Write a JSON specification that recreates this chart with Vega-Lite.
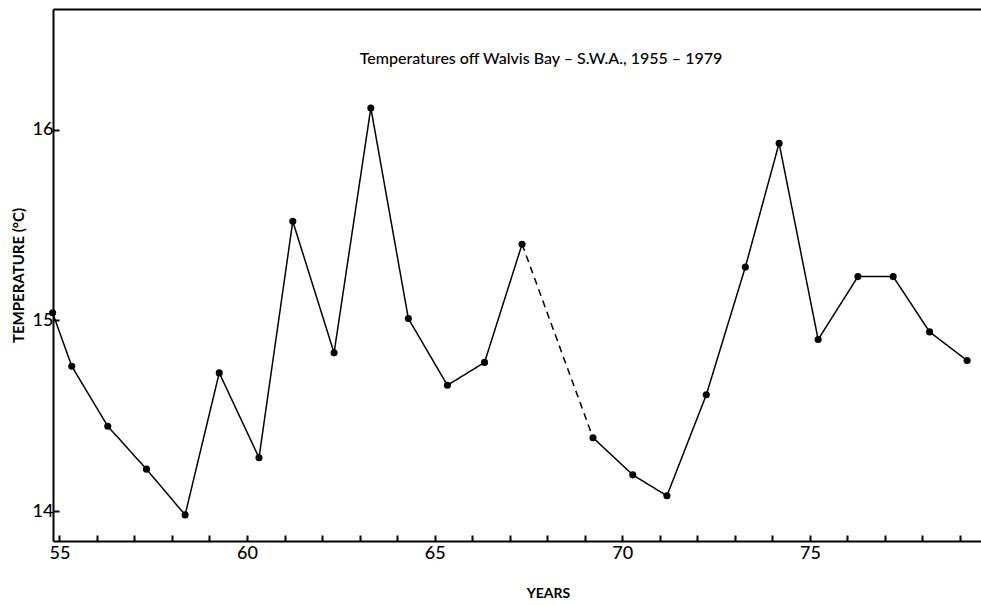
{
  "$schema": "https://vega.github.io/schema/vega-lite/v6.json",
  "width": 928,
  "height": 532,
  "autosize": {"type": "none"},
  "padding": {"left": 53, "top": 9, "right": 0, "bottom": 64},
  "background": "white",
  "view": {"stroke": null},
  "config": {
    "view": {"stroke": null},
    "font": "Lato"
  },
  "title": {
    "text": "Temperatures off Walvis Bay – S.W.A., 1955 – 1979",
    "anchor": "middle",
    "fontSize": 16,
    "fontWeight": 500,
    "color": "black",
    "dx": 24,
    "dy": 62
  },
  "data": {
    "values": [
      {"year": 54.82, "temp": 15.04, "seg": "a"},
      {"year": 55.33, "temp": 14.76, "seg": "a"},
      {"year": 56.29, "temp": 14.445, "seg": "a"},
      {"year": 57.32, "temp": 14.22, "seg": "a"},
      {"year": 58.35, "temp": 13.98, "seg": "a"},
      {"year": 59.26, "temp": 14.725, "seg": "a"},
      {"year": 60.32, "temp": 14.28, "seg": "a"},
      {"year": 61.22, "temp": 15.52, "seg": "a"},
      {"year": 62.32, "temp": 14.83, "seg": "a"},
      {"year": 63.30, "temp": 16.115, "seg": "a"},
      {"year": 64.30, "temp": 15.01, "seg": "a"},
      {"year": 65.34, "temp": 14.66, "seg": "a"},
      {"year": 66.33, "temp": 14.78, "seg": "a"},
      {"year": 67.33, "temp": 15.40, "seg": "a"},
      {"year": 67.33, "temp": 15.40, "seg": "gap"},
      {"year": 69.22, "temp": 14.385, "seg": "gap"},
      {"year": 69.22, "temp": 14.385, "seg": "b"},
      {"year": 70.28, "temp": 14.19, "seg": "b"},
      {"year": 71.19, "temp": 14.08, "seg": "b"},
      {"year": 72.24, "temp": 14.61, "seg": "b"},
      {"year": 73.28, "temp": 15.28, "seg": "b"},
      {"year": 74.18, "temp": 15.93, "seg": "b"},
      {"year": 75.22, "temp": 14.90, "seg": "b"},
      {"year": 76.28, "temp": 15.23, "seg": "b"},
      {"year": 77.22, "temp": 15.23, "seg": "b"},
      {"year": 78.19, "temp": 14.94, "seg": "b"},
      {"year": 79.19, "temp": 14.79, "seg": "b"}
    ]
  },
  "encoding": {
    "x": {
      "field": "year",
      "type": "quantitative",
      "scale": {"domain": [54.83, 79.56], "nice": false, "zero": false},
      "axis": {
        "title": "YEARS",
        "titleFontSize": 14,
        "titleFontWeight": "bold",
        "titleColor": "black",
        "titleX": 495,
        "titleY": 52,
        "titleBaseline": "middle",
        "values": [55,56,57,58,59,60,61,62,63,64,65,66,67,68,69,70,71,72,73,74,75,76,77,78,79],
        "labelExpr": "datum.value % 5 === 0 ? datum.label : ''",
        "labelOverlap": false,
        "labelFontSize": 18,
        "labelFontWeight": 500,
        "labelColor": "black",
        "labelPadding": 9,
        "tickSize": -6,
        "tickColor": "black",
        "tickWidth": 2,
        "domainColor": "black",
        "domainWidth": 2,
        "grid": false
      }
    },
    "y": {
      "field": "temp",
      "type": "quantitative",
      "scale": {"domain": [13.843, 16.634], "nice": false, "zero": false},
      "axis": {
        "title": "TEMPERATURE (°C)",
        "titleFontSize": 15,
        "titleFontWeight": "bold",
        "titleColor": "black",
        "titleAngle": 270,
        "titleX": -35,
        "titleY": 266,
        "titleAlign": "center",
        "titleBaseline": "middle",
        "values": [14, 15, 16],
        "labelFontSize": 18,
        "labelFontWeight": 500,
        "labelColor": "black",
        "labelPadding": 6,
        "tickSize": -6,
        "tickColor": "black",
        "tickWidth": 2,
        "domainColor": "black",
        "domainWidth": 2,
        "grid": false
      }
    }
  },
  "layer": [
    {
      "mark": {"type": "line", "color": "black", "strokeWidth": 1.5},
      "encoding": {
        "detail": {"field": "seg"},
        "strokeDash": {
          "field": "seg",
          "type": "nominal",
          "scale": {"domain": ["a", "gap", "b"], "range": [[1, 0], [7, 5], [1, 0]]},
          "legend": null
        }
      }
    },
    {
      "transform": [{"filter": "datum.seg != 'gap'"}],
      "mark": {"type": "circle", "color": "black", "opacity": 1, "size": 50},
      "encoding": {
        "x": {
          "field": "year",
          "type": "quantitative",
          "scale": {"domain": [54.83, 79.56], "nice": false, "zero": false},
          "axis": {
            "orient": "top",
            "title": null,
            "labels": false,
            "ticks": false,
            "grid": false,
            "domainColor": "black",
            "domainWidth": 2
          }
        }
      }
    }
  ],
  "resolve": {"axis": {"x": "independent"}}
}
